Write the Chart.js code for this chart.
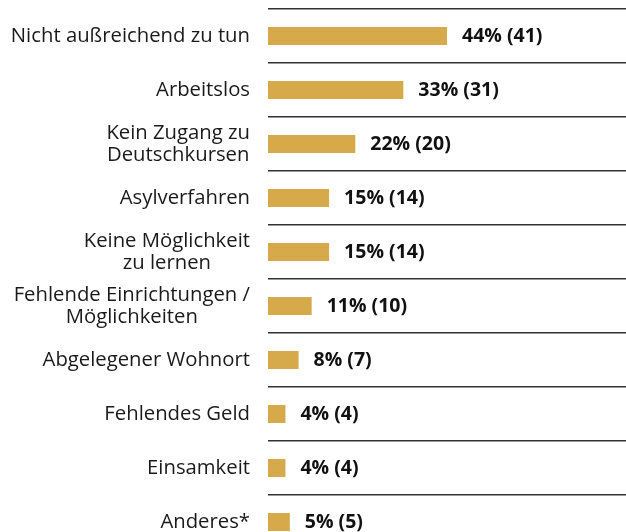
<!DOCTYPE html>
<html>
<head>
<meta charset="utf-8">
<script src="https://cdn.jsdelivr.net/npm/chart.js@4"></script>
<style>
  html, body { margin: 0; padding: 0; background: #fff; overflow: hidden; }
  #wrap { width: 626px; height: 560px; }
</style>
</head>
<body>
<div id="wrap"><canvas id="chart" width="626" height="560"></canvas></div>
<script>
// Gründe (Kategorien), Anteile in Prozent und Anzahl der Nennungen
const categories = [
    'Nicht außreichend zu tun',
    'Arbeitslos',
    ['Kein Zugang zu', 'Deutschkursen'],
    'Asylverfahren',
    ['Keine Möglichkeit', 'zu lernen'],
    ['Fehlende Einrichtungen /', 'Möglichkeiten'],
    'Abgelegener Wohnort',
    'Fehlendes Geld',
    'Einsamkeit',
    'Anderes*'
];
const percents = [44, 33, 22, 15, 15, 11, 8, 4, 4, 5];
const counts = [41, 31, 20, 14, 14, 10, 7, 4, 4, 5];

const barColor = '#D6AA4A';
const fontFamily = '"Open Sans", sans-serif';

// Beschriftung rechts neben den Balken
const valueLabels = {
    id: 'valueLabels',
    afterDatasetsDraw(chart) {
        const ctx = chart.ctx;
        const meta = chart.getDatasetMeta(0);
        ctx.save();
        ctx.font = 'bold 19.5px ' + fontFamily;
        ctx.fillStyle = '#111';
        ctx.textAlign = 'left';
        ctx.textBaseline = 'middle';
        meta.data.forEach((bar, i) => {
            ctx.fillText(percents[i] + '% (' + counts[i] + ')', bar.x + 15, bar.y);
        });
        ctx.restore();
    }
};

// Kategorien: Block rechtsbündig, Zeilen darin zentriert
const categoryLabels = {
    id: 'categoryLabels',
    afterDraw(chart) {
        const ctx = chart.ctx;
        const y = chart.scales.y;
        const right = chart.chartArea.left - 18;
        const lineH = 22;
        ctx.save();
        ctx.font = '20.3px ' + fontFamily;
        ctx.fillStyle = '#1a1a1a';
        ctx.textAlign = 'center';
        ctx.textBaseline = 'middle';
        categories.forEach((label, i) => {
            const lines = Array.isArray(label) ? label : [label];
            const w = Math.max(...lines.map(l => ctx.measureText(l).width));
            const cy = y.getPixelForValue(i);
            lines.forEach((l, j) => {
                ctx.fillText(l, right - w / 2, cy + (j - (lines.length - 1) / 2) * lineH);
            });
        });
        ctx.restore();
    }
};

const ctx = document.getElementById('chart').getContext('2d');
new Chart(ctx, {
    type: 'bar',
    data: {
        labels: categories,
        datasets: [{
            data: counts,
            backgroundColor: barColor,
            borderWidth: 0,
            barPercentage: 1,
            categoryPercentage: 0.333
        }]
    },
    options: {
        indexAxis: 'y',
        responsive: false,
        animation: false,
        layout: { padding: { top: 9, right: 0, bottom: 11, left: 0 } },
        plugins: {
            legend: { display: false },
            tooltip: { enabled: false }
        },
        scales: {
            x: {
                display: false,
                min: 0,
                max: 82
            },
            y: {
                afterFit(scale) {
                    scale.width = 268;
                    scale.paddingTop = 0;
                    scale.paddingBottom = 0;
                },
                border: { display: false },
                grid: {
                    offset: true,
                    drawTicks: false,
                    color: '#333',
                    lineWidth: 1.5
                },
                ticks: { display: false }
            }
        }
    },
    plugins: [valueLabels, categoryLabels]
});
</script>
</body>
</html>
